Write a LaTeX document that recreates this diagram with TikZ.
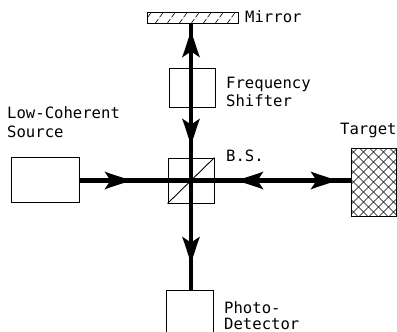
\documentclass[tikz,border=0pt]{standalone}
\usepackage{fontspec}
\setmainfont{DejaVu Sans Mono}
\usetikzlibrary{decorations.markings}
\newcommand{\beamhead}{\fill[black] (0pt,0pt) .. controls (-9pt,3.5pt) and (-17pt,5.5pt) .. (-26pt,9pt) -- (-20pt,0pt) -- (-26pt,-9pt) .. controls (-17pt,-5.5pt) and (-9pt,-3.5pt) .. (0pt,0pt) -- cycle;}
\tikzset{
  x=1pt,y=-1pt,
  lab/.style={font=\fontsize{15.6}{19}\selectfont,anchor=base west,align=left,inner sep=0pt},
  boxn/.style={draw=black,line width=0.9pt,inner sep=0pt,fill=white},
  beam/.style={line width=4.4pt,draw=black},
  mfwd/.style={postaction={decorate,decoration={markings,mark=at position #1 with {\beamhead}}}},
  mback/.style={postaction={decorate,decoration={markings,mark=at position #1 with {\begin{scope}[rotate=180]\beamhead\end{scope}}}}},
}
\begin{document}
\begin{tikzpicture}
\useasboundingbox (0,0) rectangle (397,332);
% boxes
\node[boxn,minimum width=91pt,minimum height=11pt,
  path picture={\foreach \i in {-45,-33,...,45}{\draw[line width=0.6pt,dash pattern=on 5pt off 2pt] (\i-4,5.5)--(\i+4,-5.5);}}] (mirror) at (192.5,17.5) {};
\node[boxn,minimum width=46pt,minimum height=39pt] (shifter) at (192,87.5) {};
\node[boxn,minimum width=46pt,minimum height=45pt] (bs) at (191,180.5) {};
\node[boxn,minimum width=68pt,minimum height=45pt] (source) at (45,179.5) {};
\node[boxn,minimum width=45pt,minimum height=68pt,
  path picture={\foreach \i in {-100,-90,...,100}{
     \draw[line width=0.55pt] (\i-34,-34)--(\i+34,34);
     \draw[line width=0.55pt] (\i-34,34)--(\i+34,-34);}}] (target) at (373.5,182) {};
\node[minimum width=46pt,minimum height=41pt,inner sep=0pt] (photo) at (190,311.5) {};
\draw[line width=0.9pt] (photo.south west) |- (photo.north east) -- (photo.south east);
\draw[line width=0.9pt] (bs.south west) -- (bs.north east);
% beams
\draw[beam,mback=36pt,mfwd=149pt] (bs.center) -- (mirror.south -| bs.center);
\draw[beam,mfwd=51pt] (source.east |- bs.center) -- (bs.center);
\draw[beam,mfwd=113pt,mback=14pt] (target.west |- bs.center) -- (bs.center);
\draw[beam,mfwd=82pt] (bs.center) -- (photo.north -| bs.center);
% labels
\node[lab] (lmirror) at (245,23) {Mirror};
\node[lab] (lfreq1) at (226,88) {Frequency};
\node[lab] (lfreq2) at (226,106) {Shifter};
\node[lab] (llow1) at (7,118) {Low-Coherent};
\node[lab] (llow2) at (7,137) {Source};
\node[lab] (lbs) at (226,161) {B.S.};
\node[lab] (ltarget) at (340,134) {Target};
\node[lab] (lphoto1) at (224,313) {Photo-};
\node[lab] (lphoto2) at (224,329) {Detector};
\end{tikzpicture}
\end{document}
